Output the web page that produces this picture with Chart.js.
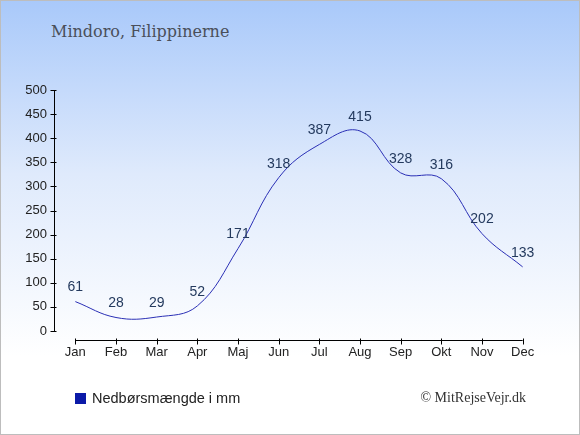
<!DOCTYPE html>
<html lang="da">
<head>
<meta charset="UTF-8">
<title>Mindoro, Filippinerne</title>
<script src="https://cdn.jsdelivr.net/npm/chart.js"></script>
<style>
  html, body { margin: 0; padding: 0; }
  #boks {
    position: relative; width: 578px; height: 433px;
    border: 1px solid #bdbdbd;
    background: linear-gradient(to bottom, #a9c9fa 0%, #dfeafc 40%, #ffffff 82%, #ffffff 100%);
    overflow: hidden;
  }
  #titel {
    position: absolute; left: 50px; top: 21px;
    font-family: "DejaVu Serif", serif; font-size: 16px; color: #4a4f5a;
  }
  #legende {
    position: absolute; left: 74px; top: 389px;
    font-family: "Liberation Sans", Arial, sans-serif; font-size: 14.5px; color: #222;
  }
  #legende span.firkant {
    display: inline-block; width: 11px; height: 11px; background: #0b1aa8;
    margin-right: 6px; vertical-align: -1px;
  }
  #kilde {
    position: absolute; right: 53px; top: 389px;
    font-family: "Liberation Serif", "Times New Roman", serif; font-size: 14px; color: #333;
  }
  canvas { position: absolute; left: 0; top: 0; }
</style>
</head>
<body>
<div id="boks">
  <div id="titel">Mindoro, Filippinerne</div>
  <canvas id="nedbor" width="578" height="433"></canvas>
  <div id="legende"><span class="firkant"></span>Nedbørsmængde i mm</div>
  <div id="kilde">© MitRejseVejr.dk</div>
</div>

<script>
// Maaneder og nedboer (mm)
const maaneder = ['Jan', 'Feb', 'Mar', 'Apr', 'Maj', 'Jun', 'Jul', 'Aug', 'Sep', 'Okt', 'Nov', 'Dec'];
const nedboer = [61, 28, 29, 52, 171, 318, 387, 415, 328, 316, 202, 133];
const yTicks = [0, 50, 100, 150, 200, 250, 300, 350, 400, 450, 500];

// tegner akser og tal over punkterne
const aksePlugin = {
  id: 'akser',
  afterDatasetsDraw(chart) {
    const ctx = chart.ctx;
    const x = chart.scales.x, y = chart.scales.y;
    const area = chart.chartArea;
    ctx.save();
    ctx.strokeStyle = '#000';
    ctx.lineWidth = 1;
    // y-akse
    const ax = Math.round(area.left) - 0.5;
    ctx.beginPath();
    ctx.moveTo(ax, y.getPixelForValue(500));
    ctx.lineTo(ax, y.getPixelForValue(0));
    yTicks.forEach(v => {
      const py = Math.round(y.getPixelForValue(v)) + 0.5;
      ctx.moveTo(ax - 4, py);
      ctx.lineTo(ax + 2, py);
    });
    // x-akse
    const ly = Math.round(area.bottom) + 9.5;
    ctx.moveTo(x.getPixelForValue(0), ly);
    ctx.lineTo(x.getPixelForValue(maaneder.length - 1), ly);
    maaneder.forEach((m, i) => {
      const px = Math.round(x.getPixelForValue(i)) + 0.5;
      ctx.moveTo(px, ly - 2);
      ctx.lineTo(px, ly + 4);
    });
    ctx.stroke();

    // værdier
    const meta = chart.getDatasetMeta(0);
    ctx.fillStyle = '#243a5e';
    ctx.font = '14px "Liberation Sans", Arial, sans-serif';
    ctx.textAlign = 'center';
    ctx.textBaseline = 'middle';
    meta.data.forEach((p, i) => {
      ctx.fillText(String(nedboer[i]), p.x, p.y - 14);
    });
    ctx.restore();
  }
};

const ctx = document.getElementById('nedbor').getContext('2d');
new Chart(ctx, {
  type: 'line',
  data: {
    labels: maaneder,
    datasets: [{
      label: 'Nedbørsmængde i mm',
      data: nedboer,
      borderColor: '#2a2fb5',
      borderWidth: 1,
      pointRadius: 0,
      fill: false,
      tension: 0.4
    }]
  },
  options: {
    responsive: false,
    animation: false,
    layout: { padding: { top: 89, right: 36, bottom: 0, left: 0 } },
    plugins: { legend: { display: false }, tooltip: { enabled: false }, title: { display: false } },
    scales: {
      x: {
        offset: true,
        grid: { display: false, drawTicks: false },
        border: { display: false },
        ticks: {
          color: '#222', padding: 14,
          font: { family: '"Liberation Sans", Arial, sans-serif', size: 13 }
        },
        afterFit(s) { s.height = 103; }
      },
      y: {
        min: 0, max: 500,
        grid: { display: false, drawTicks: false },
        border: { display: false },
        ticks: {
          stepSize: 50, color: '#222', padding: 8,
          font: { family: '"Liberation Sans", Arial, sans-serif', size: 13 }
        },
        afterFit(s) { s.width = 54; }
      }
    }
  },
  plugins: [aksePlugin]
});
</script>
</body>
</html>
